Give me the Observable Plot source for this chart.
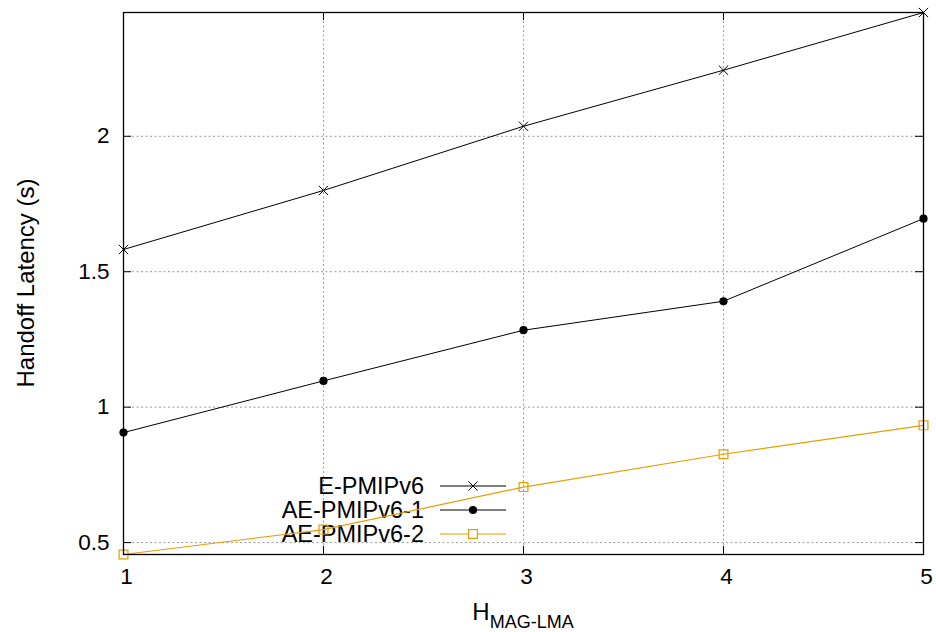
<!DOCTYPE html>
<html>
<head>
<meta charset="utf-8">
<script src="https://cdn.jsdelivr.net/npm/d3@7"></script>
<script src="https://cdn.jsdelivr.net/npm/@observablehq/plot@0.6"></script>
<style>
  html, body { margin: 0; padding: 0; background: #fff; }
  #chart svg { display: block; }
</style>
</head>
<body>
<div id="chart"></div>
<script>
// ---- data ----
const hops = [1, 2, 3, 4, 5];
const seriesNames = ["E-PMIPv6", "AE-PMIPv6-1", "AE-PMIPv6-2"];
const ePMIPv6 = [1.582, 1.800, 2.037, 2.244, 2.457];
const aePMIPv6_1 = [0.906, 1.097, 1.284, 1.391, 1.696];
const aePMIPv6_2 = [0.456, 0.548, 0.705, 0.826, 0.933];
const xTicks = [1, 2, 3, 4, 5];
const yTicks = [0.5, 1, 1.5, 2];
const yLabel = "Handoff Latency (s)";
const xLabelMain = "H";
const xLabelSub = "MAG-LMA";

// ---- build table ----
const seriesValues = [ePMIPv6, aePMIPv6_1, aePMIPv6_2];
const rows = [];
seriesNames.forEach((name, i) => {
  hops.forEach((h, j) => rows.push({series: name, x: h, y: seriesValues[i][j]}));
});
const allY = rows.map(d => d.y);
const yDomain = [d3.min(allY), d3.max(allY)];

const ORANGE = "#E69F00";
const colors = {"E-PMIPv6": "#000", "AE-PMIPv6-1": "#000", "AE-PMIPv6-2": ORANGE};
const W = 936, H = 632;
const mL = 123, mR = 13, mT = 12, mB = 78;
const plotH = H - mT - mB, plotW = W - mL - mR;
const TL = 8; // tick length
const FONT = "Liberation Sans, Arial, Helvetica, sans-serif";

const gridStyle = {stroke: "#9a9a9a", strokeWidth: 1, strokeDasharray: "2,2.5", strokeOpacity: 1};

const plot = Plot.plot({
  width: W, height: H,
  marginLeft: mL, marginRight: mR, marginTop: mT, marginBottom: mB,
  style: {fontFamily: FONT, color: "#000", background: "#fff", overflow: "visible"},
  x: {domain: [1, 5], axis: null},
  y: {domain: yDomain, axis: null},
  marks: [
    // grid
    Plot.ruleX(xTicks.filter(d => d > 1 && d < 5), {x: d => d, ...gridStyle}),
    Plot.ruleY(yTicks, {y: d => d, ...gridStyle}),
    // inward ticks on all sides
    Plot.tickX(xTicks, {x: d => d, insetTop: plotH - TL, stroke: "#000", strokeWidth: 1}),
    Plot.tickX(xTicks, {x: d => d, insetBottom: plotH - TL, stroke: "#000", strokeWidth: 1}),
    Plot.tickY(yTicks, {y: d => d, insetRight: plotW - TL, stroke: "#000", strokeWidth: 1}),
    Plot.tickY(yTicks, {y: d => d, insetLeft: plotW - TL, stroke: "#000", strokeWidth: 1}),
    // tick labels
    Plot.axisX({ticks: xTicks, tickSize: 0, tickPadding: 14, dx: 3, fontSize: 22.5, tickFormat: d => String(d), label: null}),
    Plot.axisY({ticks: yTicks, tickSize: 0, tickPadding: 14, fontSize: 22.5, tickFormat: d => String(d), label: null}),
    // series lines
    Plot.line(rows.filter(d => d.series === "E-PMIPv6"), {x: "x", y: "y", stroke: "#000", strokeWidth: 1}),
    Plot.line(rows.filter(d => d.series === "AE-PMIPv6-1"), {x: "x", y: "y", stroke: "#000", strokeWidth: 1}),
    Plot.line(rows.filter(d => d.series === "AE-PMIPv6-2"), {x: "x", y: "y", stroke: ORANGE, strokeWidth: 1.2}),
    // markers
    Plot.dot(rows.filter(d => d.series === "E-PMIPv6"), {x: "x", y: "y", symbol: "times", r: 4.3, stroke: "#000", strokeWidth: 1}),
    Plot.dot(rows.filter(d => d.series === "AE-PMIPv6-1"), {x: "x", y: "y", symbol: "circle", r: 4.1, fill: "#000", stroke: "none"}),
    Plot.dot(rows.filter(d => d.series === "AE-PMIPv6-2"), {x: "x", y: "y", symbol: "square", r: 5, fill: "none", stroke: ORANGE, strokeWidth: 1.2}),
    // frame
    Plot.frame({stroke: "#000", strokeWidth: 1.3})
  ]
});

document.getElementById("chart").appendChild(plot);
const svg = d3.select(plot);
const xs = plot.scale("x"), ys = plot.scale("y");

// legend (drawn below data lines, as in the reference)
const legend = svg.insert("g", "g[aria-label=line]").attr("font-family", FONT).attr("font-size", 23.5);
const legendX = 424, legendY0 = 486, legendDY = 24;
const symbols = {"E-PMIPv6": d3.symbolTimes, "AE-PMIPv6-1": d3.symbolCircle, "AE-PMIPv6-2": d3.symbolSquare};
const rad = {"E-PMIPv6": 4.3, "AE-PMIPv6-1": 4.1, "AE-PMIPv6-2": 5};
seriesNames.forEach((name, i) => {
  const y = legendY0 + i * legendDY;
  const c = colors[name];
  legend.append("text").attr("x", legendX).attr("y", y).attr("dy", "0.35em")
    .attr("text-anchor", "end").attr("fill", "#000").text(name);
  legend.append("line").attr("x1", legendX + 16).attr("x2", legendX + 82)
    .attr("y1", y).attr("y2", y).attr("stroke", c).attr("stroke-width", name === "AE-PMIPv6-2" ? 1.2 : 1);
  const p = legend.append("path")
    .attr("transform", `translate(${legendX + 49},${y})`)
    .attr("d", d3.symbol(symbols[name], Math.PI * rad[name] * rad[name])());
  if (name === "AE-PMIPv6-1") p.attr("fill", "#000");
  else p.attr("fill", name === "AE-PMIPv6-2" ? "#fff" : "none").attr("stroke", c).attr("stroke-width", name === "AE-PMIPv6-2" ? 1.2 : 1);
});

// y axis label
const yMid = (ys.range[0] + ys.range[1]) / 2;
svg.append("text")
  .attr("transform", `translate(34,${yMid}) rotate(-90)`)
  .attr("text-anchor", "middle")
  .attr("font-family", FONT).attr("font-size", 24).attr("fill", "#000")
  .text(yLabel);

// x axis label with subscript
const xMid = (xs.range[0] + xs.range[1]) / 2;
const xl = svg.append("text")
  .attr("x", xMid).attr("y", 620)
  .attr("text-anchor", "middle")
  .attr("font-family", FONT).attr("font-size", 24).attr("fill", "#000");
xl.append("tspan").text(xLabelMain);
xl.append("tspan").attr("dy", 8).attr("font-size", 18).text(xLabelSub);
</script>
</body>
</html>
